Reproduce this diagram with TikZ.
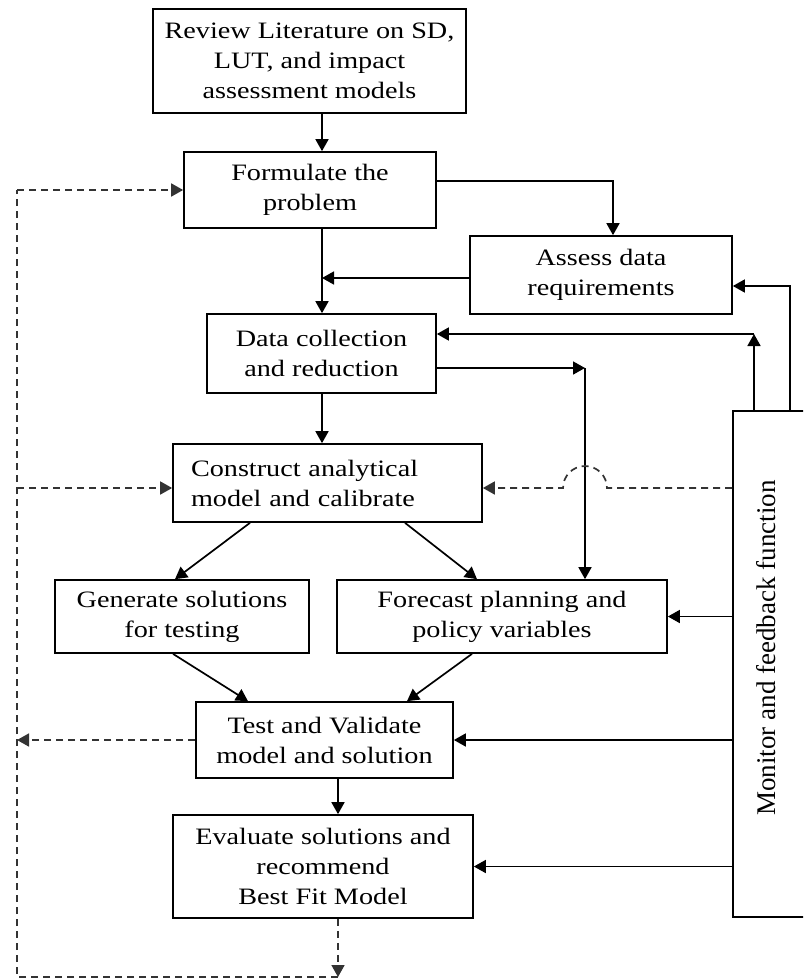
\documentclass[tikz,border=0pt]{standalone}
\usepackage{fontspec}
\setmainfont[FakeStretch=1.2]{Liberation Serif}
\newfontfamily\monfont{Liberation Serif}
\usetikzlibrary{arrows.meta,calc}

\begin{document}
\begin{tikzpicture}[
    x=1pt, y=-1pt,
    stage/.style={draw, line width=1.7pt, align=center, inner sep=0pt,
                  font=\fontsize{23.5}{30}\selectfont},
    flow/.style={-{Triangle[length=12pt,width=13pt]}, line width=1.7pt},
    back/.style={flow, dash pattern=on 7pt off 5pt, black!80},
]
\useasboundingbox (0,0) rectangle (803,979);
\clip (0,0) rectangle (803,979);

% Stages
\node[stage, minimum width=313pt, minimum height=104pt] (review) at (309.5,61)
    {Review Literature on SD,\\LUT, and impact\\assessment models};
\node[stage, minimum width=252pt, minimum height=76pt] (formulate) at (310,190)
    {Formulate the\\problem};
\node[stage, minimum width=262pt, minimum height=78pt] (assess) at (601,275)
    {Assess data\\requirements};
\node[stage, minimum width=229pt, minimum height=79pt] (data) at (321.5,353.5)
    {Data collection\\and reduction};
\node[stage, text width=273pt, align=left, minimum width=309pt, minimum height=78pt]
    (construct) at (327.5,483)
    {Construct analytical\\model and calibrate};
\node[stage, minimum width=254pt, minimum height=73pt] (generate) at (182,616.5)
    {Generate solutions\\for testing};
\node[stage, minimum width=330pt, minimum height=73pt] (forecast) at (502,616.5)
    {Forecast planning and\\policy variables};
\node[stage, minimum width=257pt, minimum height=76pt] (test) at (324.5,740)
    {Test and Validate\\model and solution};
\node[stage, minimum width=300pt, minimum height=103pt] (evaluate) at (323,866.5)
    {Evaluate solutions and\\recommend\\Best Fit Model};

% Monitor box (runs off the right edge)
\node[stage, minimum width=200pt, minimum height=506pt] (mon) at (833,664) {};
\node[rotate=90, font=\monfont\fontsize{27}{30}\selectfont] (monlabel) at (766,648)
    {Monitor and feedback function};

% Bends
\coordinate (spine) at (322,0);
\coordinate (spinelow) at (338,0);
\coordinate (fa) at (613,181);
\coordinate (as) at (322,278);
\coordinate (c1) at (754,334);
\coordinate (c2) at (790,286);
\coordinate (c3) at (585,368);
\coordinate (c4) at (585,488);
\coordinate (lt) at (17,190);
\coordinate (lb) at (17,977);

% Main flow
\draw[flow] (review.south -| spine) -- (formulate.north -| spine);
\draw[flow] (formulate.south -| spine) -- (data.north -| spine);
\draw[flow] (data.south -| spine) -- (construct.north -| spine);
\draw[flow] (formulate.east |- fa) -| (assess.north -| fa);
\draw[flow] (assess.west |- as) -- (as);
\draw[flow] (data.east |- c3) -- (c3);
\draw[flow] (c3) -- (forecast.north -| c3);
\draw[flow] ([xshift=-77.5]construct.south) -- ([xshift=-7]generate.north);
\draw[flow] ([xshift=77.5]construct.south) -- ([xshift=-25]forecast.north);
\draw[flow] ([xshift=-9]generate.south) -- ([xshift=-76.5]test.north);
\draw[flow] ([xshift=-30]forecast.south) -- ([xshift=82.5]test.north);
\draw[flow] (test.south -| spinelow) -- (evaluate.north -| spinelow);

% Monitor and feedback
\draw[flow] (mon.north -| c1) -- (c1);
\draw[flow] (c1) -- (data.east |- c1);
\draw[flow] (mon.north -| c2) |- (assess.east |- c2);
\draw[back] (mon.west |- c4) -- ([xshift=22]c4)
    arc[start angle=0, end angle=180, radius=22pt] -- (construct.east |- c4);
\foreach \t in {forecast,test,evaluate}
    \draw[flow] (mon.west |- \t.east) -- (\t.east);

% Dashed return loop
\draw[back] (evaluate.south -| spinelow) -- (spinelow |- lb);
\draw[back, -] (spinelow |- lb) -- (lb) -- (lt);
\draw[back] (lt) -- (formulate.west);
\draw[back] (test.west) -- (test.west -| lt);
\draw[back] (lt |- c4) -- (construct.west |- c4);

\end{tikzpicture}
\end{document}
